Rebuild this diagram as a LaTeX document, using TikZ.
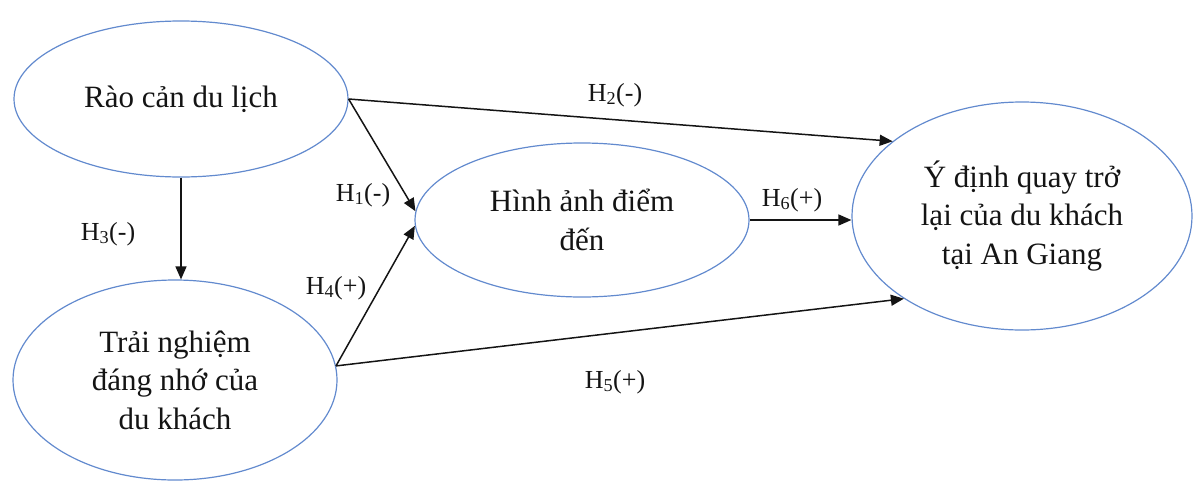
\documentclass[tikz,border=0pt]{standalone}
\usepackage{fontspec}
\setmainfont{Liberation Serif}
\usepackage{tikz}
\usetikzlibrary{arrows.meta, positioning, shapes.geometric}
\usepackage{xcolor}
\definecolor{modelblue}{RGB}{98,138,206}
\definecolor{modelink}{RGB}{20,20,20}

\begin{document}
\begin{tikzpicture}[
  x=1pt, y=-1pt,
  construct/.style={draw=modelblue, ellipse, line width=1.2pt, inner sep=0pt,
                    align=center, text=modelink,
                    font=\fontsize{31}{38.5}\selectfont},
  hyp/.style={font=\fontsize{26}{30}\selectfont, text=modelink, inner sep=1pt},
  arr/.style={-{Triangle[length=13pt, width=11pt]}, modelink, line width=1.5pt},
]
  \useasboundingbox (0,0) rectangle (1193,482);

  \node[construct, minimum width=334pt, minimum height=156pt] (barrier) at (181,99)
    {Rào cản du lịch};
  \node[construct, minimum width=324pt, minimum height=200pt] (exper) at (175,380)
    {Trải nghiệm\\đáng nhớ của\\du khách};
  \node[construct, minimum width=334pt, minimum height=154pt] (image) at (582,220)
    {Hình ảnh điểm\\đến};
  \node[construct, minimum width=340pt, minimum height=228pt] (intent) at (1022,216)
    {Ý định quay trở\\lại của du khách\\tại An Giang};

  \foreach \a/\b in {barrier.east/intent.150, barrier.east/image.177,
                     exper.5/image.182, exper.5/intent.215.7} {
    \draw[arr] (\a) -- (\b);
  }
  \draw[arr] (barrier.south) -- (barrier.south |- exper.north);
  \draw[arr] (image.east) -- (image.east -| intent.west);

  % Hypothesis labels
  \node[hyp] (h1) at (363,195) {H\textsubscript{1}(-)};
  \node[hyp] (h2) at (615,95)  {H\textsubscript{2}(-)};
  \node[hyp] (h3) at (108,234) {H\textsubscript{3}(-)};
  \node[hyp] (h4) at (336,288) {H\textsubscript{4}(+)};
  \node[hyp] (h5) at (615,382) {H\textsubscript{5}(+)};
  \node[hyp] (h6) at (792,200) {H\textsubscript{6}(+)};
\end{tikzpicture}
\end{document}
